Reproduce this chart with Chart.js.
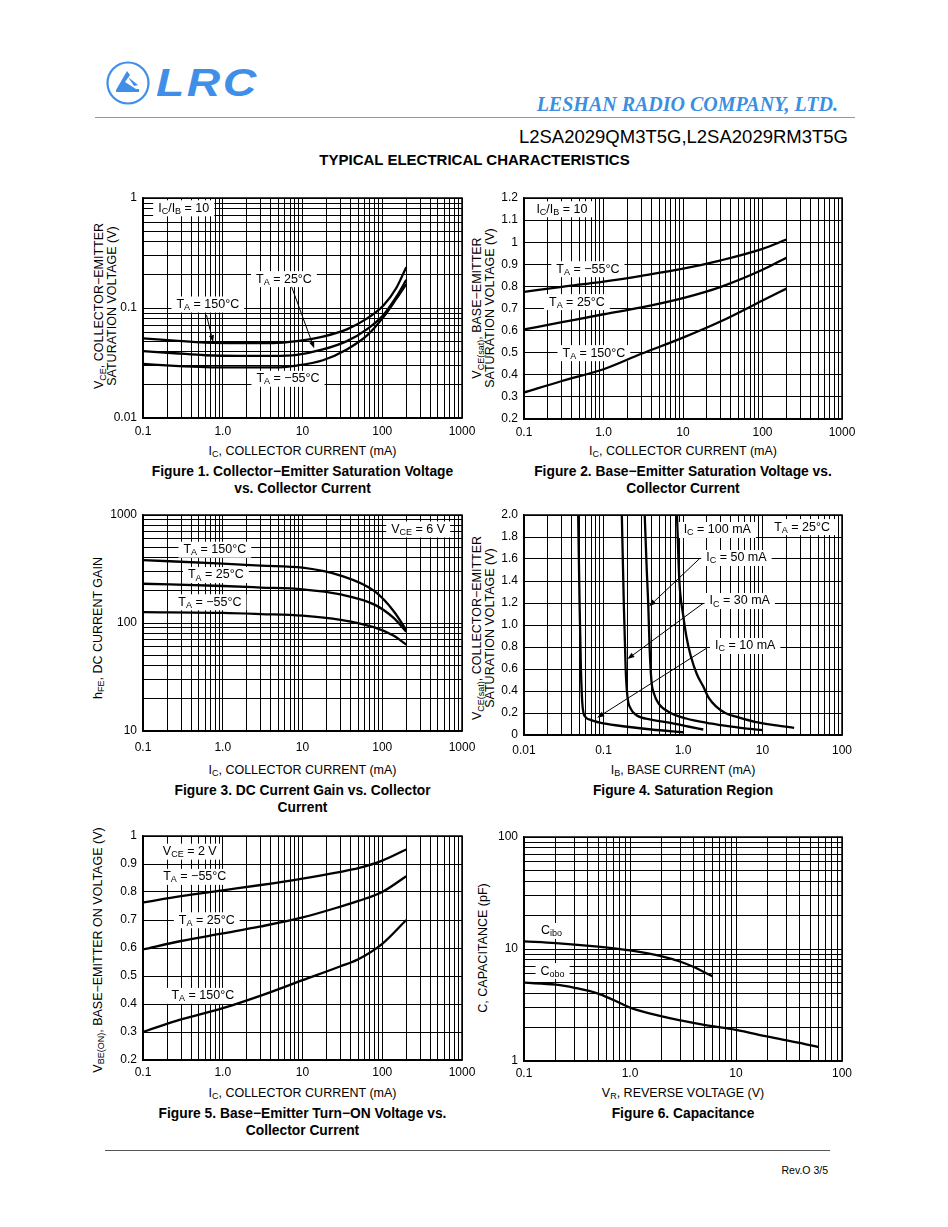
<!DOCTYPE html>
<html lang="en">
<head>
<meta charset="UTF-8">
<title>L2SA2029QM3T5G, L2SA2029RM3T5G - Typical Electrical Characteristics</title>
<script src="https://cdn.jsdelivr.net/npm/chart.js"></script>
<style>
  body { margin: 0; background: #fff; }
  .page { position: relative; width: 948px; height: 1227px; overflow: hidden; background: #fff;
          font-family: "Liberation Sans", Arial, Helvetica, sans-serif; color: #000; }
  .page canvas, .t, .r, .cap, .yax { position: absolute; white-space: nowrap; }
  .t { line-height: 1; transform: translate(-50%, -50%); }
  .r { line-height: 1; transform: translateY(-50%); }
  .ax { font-size: 12.5px; }
  .yax { font-size: 12.5px; line-height: 13px; text-align: center; transform: translate(-50%, -50%) rotate(-90deg); }
  .cap { font-size: 13.8px; font-weight: bold; line-height: 17px; text-align: center; transform: translateX(-50%); }
  sub { font-size: 72%; vertical-align: -0.3em; line-height: 0; }
</style>
</head>
<body>
<div class="page" id="page">
  <!-- header -->
  <svg style="position:absolute;left:105px;top:60px" width="46" height="46" viewBox="0 0 46 46">
    <circle cx="23" cy="23" r="20.5" fill="none" stroke="#3f8fe9" stroke-width="2.2"/>
    <path d="M11 30 L22 11 L25 15 L20 22 L31 29 L34 29 L34 32 L11 32 Z" fill="#3f8fe9"/>
    <path d="M23 17 L33 25 L29 26 Z" fill="#3f8fe9"/>
  </svg>
  <div class="r" style="left:156px;top:83px;font:italic bold 38px 'Liberation Sans',Arial,sans-serif;letter-spacing:2px;color:#3f8fe9;transform:translateY(-50%) scaleX(1.22);transform-origin:left center">LRC</div>
  <div class="r" style="right:110px;top:104px;font:italic bold 20px 'Liberation Serif','Times New Roman',serif;color:#3a8fdf">LESHAN RADIO COMPANY, LTD.</div>
  <div style="position:absolute;left:95px;top:117px;width:760px;height:1px;background:#5aa7e4"></div>
  <div class="r" style="right:100px;top:137px;font-size:18.5px">L2SA2029QM3T5G,L2SA2029RM3T5G</div>
  <div class="t" style="left:474.5px;top:159px;font-size:15px;font-weight:bold">TYPICAL ELECTRICAL CHARACTERISTICS</div>

  <!-- axis titles -->
  <div class="t ax" style="left:302.5px;top:451px">I<sub>C</sub>, COLLECTOR CURRENT (mA)</div>
  <div class="t ax" style="left:683px;top:451px">I<sub>C</sub>, COLLECTOR CURRENT (mA)</div>
  <div class="t ax" style="left:302.5px;top:770px">I<sub>C</sub>, COLLECTOR CURRENT (mA)</div>
  <div class="t ax" style="left:683px;top:770px">I<sub>B</sub>, BASE CURRENT (mA)</div>
  <div class="t ax" style="left:302.5px;top:1093px">I<sub>C</sub>, COLLECTOR CURRENT (mA)</div>
  <div class="t ax" style="left:683px;top:1093px">V<sub>R</sub>, REVERSE VOLTAGE (V)</div>

  <div class="yax" style="left:105.5px;top:306px">V<sub>CE</sub>, COLLECTOR−EMITTER<br>SATURATION VOLTAGE (V)</div>
  <div class="yax" style="left:484px;top:308px">V<sub>CE(sat)</sub>, BASE−EMITTER<br>SATURATION VOLTAGE (V)</div>
  <div class="yax" style="left:98px;top:628px">h<sub>FE</sub>, DC CURRENT GAIN</div>
  <div class="yax" style="left:484px;top:628px">V<sub>CE(sat)</sub>, COLLECTOR−EMITTER<br>SATURATION VOLTAGE (V)</div>
  <div class="yax" style="left:98px;top:950px">V<sub>BE(ON)</sub>, BASE−EMITTER ON VOLTAGE (V)</div>
  <div class="yax" style="left:483px;top:948px">C, CAPACITANCE (pF)</div>

  <!-- captions -->
  <div class="cap" style="left:302.5px;top:462.5px">Figure 1. Collector−Emitter Saturation Voltage<br>vs. Collector Current</div>
  <div class="cap" style="left:683px;top:462.5px">Figure 2. Base−Emitter Saturation Voltage vs.<br>Collector Current</div>
  <div class="cap" style="left:302.5px;top:781.5px">Figure 3. DC Current Gain vs. Collector<br>Current</div>
  <div class="cap" style="left:683px;top:781.5px">Figure 4. Saturation Region</div>
  <div class="cap" style="left:302.5px;top:1104.5px">Figure 5. Base−Emitter Turn−ON Voltage vs.<br>Collector Current</div>
  <div class="cap" style="left:683px;top:1104.5px">Figure 6. Capacitance</div>

  <!-- footer -->
  <div style="position:absolute;left:105px;top:1150px;width:725px;height:1px;background:#555"></div>
  <div class="r" style="right:120px;top:1170px;font-size:10.5px">Rev.O 3/5</div>
</div>

<script>
// ---- Figure 1: VCE(sat) vs IC (IC/IB = 10)
const f1Ic     = [0.1, 0.25, 0.6, 1.6, 4.3, 8.5, 18, 36, 64, 104, 150, 200];
const f1Vce150 = [0.053, 0.0505, 0.0485, 0.048, 0.048, 0.050, 0.055, 0.064, 0.080, 0.106, 0.152, 0.235];
const f1Vce25  = [0.0405, 0.0388, 0.0372, 0.0367, 0.0367, 0.0375, 0.042, 0.050, 0.064, 0.087, 0.126, 0.180];
const f1VceM55 = [0.031, 0.0298, 0.029, 0.0288, 0.0288, 0.030, 0.0335, 0.042, 0.056, 0.083, 0.121, 0.165];
const f1YTicks  = [0.01, 0.1, 1];
const f1YLabels = ['0.01', '0.1', '1'];

// ---- Figure 2: VBE(sat) vs IC
const f2Ic      = [0.1, 0.3, 1, 3, 10, 30, 100, 200];
const f2VbeM55  = [0.775, 0.798, 0.822, 0.848, 0.88, 0.918, 0.97, 1.012];
const f2Vbe25   = [0.605, 0.638, 0.674, 0.705, 0.747, 0.798, 0.875, 0.93];
const f2Vbe150  = [0.32, 0.372, 0.425, 0.495, 0.568, 0.642, 0.736, 0.79];
const f2YTicks  = [0.2, 0.3, 0.4, 0.5, 0.6, 0.7, 0.8, 0.9, 1.0, 1.1, 1.2];
const f2YLabels = ['0.2', '0.3', '0.4', '0.5', '0.6', '0.7', '0.8', '0.9', '1', '1.1', '1.2'];

// ---- Figure 3: hFE vs IC (VCE = 6 V)
const f3Ic      = [0.1, 1, 3, 10, 30, 80, 140, 200];
const f3Hfe150  = [382, 355, 340, 325, 275, 197, 128, 86];
const f3Hfe25   = [231, 220, 213, 205, 184, 148, 111, 83];
const f3HfeM55  = [126, 124, 121, 117, 107, 91, 76, 63];
const f3YTicks  = [10, 100, 1000];
const f3YLabels = ['10', '100', '1000'];

// ---- Figure 4: saturation region (TA = 25°C)
const f4Ib10   = [0.048, 0.050, 0.052, 0.054, 0.056, 0.06, 0.07, 0.1, 0.2, 0.4, 1.0];
const f4Vce10  = [2.0, 1.2, 0.6, 0.3, 0.2, 0.16, 0.135, 0.105, 0.075, 0.05, 0.025];
const f4Ib30   = [0.17, 0.18, 0.19, 0.2, 0.22, 0.26, 0.4, 0.7, 1.2, 1.8];
const f4Vce30  = [2.0, 1.2, 0.6, 0.35, 0.24, 0.18, 0.14, 0.11, 0.075, 0.05];
const f4Ib50   = [0.33, 0.35, 0.365, 0.38, 0.40, 0.43, 0.5, 0.7, 1.1, 2, 3, 6, 10];
const f4Vce50  = [2.0, 1.5, 1.2, 0.8, 0.5, 0.38, 0.28, 0.2, 0.15, 0.11, 0.09, 0.06, 0.045];
const f4Ib100  = [0.84, 0.9, 1.0, 1.1, 1.25, 1.5, 1.8, 2.1, 2.6, 3.4, 5, 8, 14, 25];
const f4Vce100 = [2.0, 1.4, 1.1, 0.9, 0.72, 0.55, 0.44, 0.34, 0.26, 0.2, 0.16, 0.12, 0.09, 0.065];
const f4XTicks  = [0.01, 0.1, 1, 10, 100];
const f4XLabels = ['0.01', '0.1', '1.0', '10', '100'];
const f4YTicks  = [0, 0.2, 0.4, 0.6, 0.8, 1.0, 1.2, 1.4, 1.6, 1.8, 2.0];
const f4YLabels = ['0', '0.2', '0.4', '0.6', '0.8', '1.0', '1.2', '1.4', '1.6', '1.8', '2.0'];

// ---- Figure 5: VBE(on) vs IC (VCE = 2 V)
const f5Ic      = [0.1, 0.3, 1, 3, 10, 30, 50, 100, 200];
const f5VbeM55  = [0.763, 0.785, 0.806, 0.825, 0.848, 0.872, 0.885, 0.912, 0.952];
const f5Vbe25   = [0.595, 0.625, 0.652, 0.677, 0.709, 0.748, 0.768, 0.80, 0.856];
const f5Vbe150  = [0.30, 0.345, 0.385, 0.43, 0.485, 0.535, 0.56, 0.615, 0.70];
const f5YTicks  = [0.2, 0.3, 0.4, 0.5, 0.6, 0.7, 0.8, 0.9, 1.0];
const f5YLabels = ['0.2', '0.3', '0.4', '0.5', '0.6', '0.7', '0.8', '0.9', '1'];

// ---- Figure 6: capacitance vs VR
const f6VrIbo = [0.1, 0.2, 0.5, 1, 2, 3, 4, 6];
const f6Cibo  = [11.7, 11.3, 10.5, 9.7, 8.6, 7.7, 6.9, 5.7];
const f6VrObo = [0.1, 0.2, 0.3, 0.5, 0.7, 1, 2, 3, 5, 10, 20, 40, 60];
const f6Cobo  = [5.0, 4.8, 4.5, 4.0, 3.5, 3.0, 2.5, 2.3, 2.1, 1.9, 1.65, 1.45, 1.33];
const f6XTicks  = [0.1, 1, 10, 100];
const f6XLabels = ['0.1', '1.0', '10', '100'];
const f6YTicks  = [1, 10, 100];
const f6YLabels = ['1', '10', '100'];

// collector current axis shared by figs 1,2,3,5
const icTicks  = [0.1, 1, 10, 100, 1000];
const icLabels = ['0.1', '1.0', '10', '100', '1000'];

// annotations: [text, x, y] in data units, _{..} = subscript
const f1Notes  = [['I_{C}/I_{B} = 10', 0.324, 0.806], ['T_{A} = 25°C', 5.86, 0.183], ['T_{A} = 150°C', 0.65, 0.1076], ['T_{A} = −55°C', 6.58, 0.0227]];
const f1Arrows = [[7.3, 0.156, 14, 0.043], [0.625, 0.0864, 0.757, 0.049]];
const f2Notes  = [['I_{C}/I_{B} = 10', 0.3, 1.149], ['T_{A} = −55°C', 0.637, 0.878], ['T_{A} = 25°C', 0.463, 0.729], ['T_{A} = 150°C', 0.757, 0.498]];
const f3Notes  = [['V_{CE} = 6 V', 282, 735], ['T_{A} = 150°C', 0.796, 477], ['T_{A} = 25°C', 0.82, 278], ['T_{A} = −55°C', 0.689, 155.6]];
const f4Notes  = [['I_{C} = 100 mA', 2.7, 1.864], ['T_{A} = 25°C', 31.5, 1.89], ['I_{C} = 50 mA', 4.7, 1.609], ['I_{C} = 30 mA', 5.17, 1.218], ['I_{C} = 10 mA', 6.06, 0.809]];
const f4Arrows = [[1.63, 1.606, 0.375, 1.17], [1.79, 1.197, 0.2, 0.69], [1.97, 0.788, 0.0834, 0.157]];
const f5Notes  = [['V_{CE} = 2 V', 0.386, 0.944], ['T_{A} = −55°C', 0.446, 0.854], ['T_{A} = 25°C', 0.63, 0.699], ['T_{A} = 150°C', 0.562, 0.429]];
const f6Notes  = [['C_{ibo}', 0.182, 14.5], ['C_{obo}', 0.186, 6.35]];

const FONT = '"Liberation Sans", Arial, Helvetica, sans-serif';
Chart.defaults.font.family = FONT;
Chart.defaults.color = '#000';
const page = document.getElementById('page');

// all decade + minor gridlines of a log axis
function logGrid(min, max) {
  const out = [];
  for (let e = Math.floor(Math.log10(min)); e <= Math.ceil(Math.log10(max)); e++) {
    for (let m = 1; m <= 9; m++) {
      const v = Number((m * Math.pow(10, e)).toPrecision(6));
      if (v >= min * 0.999 && v <= max * 1.001) out.push(v);
    }
  }
  return out;
}

function axis(cfg, side, size) {
  const isLog = cfg.type === 'logarithmic';
  const grid = isLog ? logGrid(cfg.min, cfg.max) : cfg.ticks;
  return {
    type: cfg.type, position: side, min: cfg.min, max: cfg.max,
    afterBuildTicks: s => { s.ticks = grid.map(v => ({ value: v })); },
    afterFit: s => {
      if (side === 'left') s.width = size; else s.height = size;
      s.paddingLeft = 0; s.paddingRight = 0; s.paddingTop = 0; s.paddingBottom = 0;
    },
    grid: { color: '#000', lineWidth: 1, drawTicks: false },
    border: { color: '#000', width: 1.5 },
    ticks: {
      autoSkip: false, maxRotation: 0, minRotation: 0, padding: cfg.pad, color: '#000',
      font: { family: FONT, size: 12 },
      callback: v => {
        const i = cfg.ticks.findIndex(t => isLog ? Math.abs(Math.log10(t / v)) < 1e-6 : Math.abs(t - v) < 1e-6);
        return i < 0 ? '' : cfg.labels[i];
      }
    }
  };
}

function line(xs, ys) {
  return {
    data: xs.map((x, i) => ({ x, y: ys[i] })),
    borderColor: '#000', borderWidth: 2.3, pointRadius: 0,
    cubicInterpolationMode: 'monotone', fill: false
  };
}

function drawRich(ctx, text, cx, cy) {
  const parts = text.split(/(_\{[^}]*\})/).filter(Boolean)
    .map(p => p.startsWith('_{') ? { t: p.slice(2, -1), sub: true } : { t: p, sub: false });
  const fMain = '12.5px ' + FONT, fSub = '9px ' + FONT;
  let w = 0;
  parts.forEach(p => { ctx.font = p.sub ? fSub : fMain; p.w = ctx.measureText(p.t).width; w += p.w; });
  ctx.fillStyle = '#fff';
  ctx.fillRect(cx - w / 2 - 5, cy - 8, w + 10, 16);
  ctx.fillStyle = '#000';
  ctx.textBaseline = 'middle';
  ctx.textAlign = 'left';
  let px = cx - w / 2;
  parts.forEach(p => { ctx.font = p.sub ? fSub : fMain; ctx.fillText(p.t, px, p.sub ? cy + 3 : cy); px += p.w; });
}

function drawArrow(ctx, x0, y0, x1, y1) {
  const a = Math.atan2(y1 - y0, x1 - x0), L = 7, W = 2.6;
  const bx = x1 - L * Math.cos(a), by = y1 - L * Math.sin(a);
  ctx.strokeStyle = '#000'; ctx.fillStyle = '#000'; ctx.lineWidth = 1;
  ctx.beginPath(); ctx.moveTo(x0, y0); ctx.lineTo(bx, by); ctx.stroke();
  ctx.beginPath(); ctx.moveTo(x1, y1);
  ctx.lineTo(bx + W * Math.sin(a), by - W * Math.cos(a));
  ctx.lineTo(bx - W * Math.sin(a), by + W * Math.cos(a));
  ctx.closePath(); ctx.fill();
}

function notes(labels, arrows) {
  return {
    id: 'notes',
    beforeDatasetsDraw(chart) {
      const { ctx, scales: { x, y } } = chart;
      ctx.save();
      labels.forEach(([t, vx, vy]) => drawRich(ctx, t, x.getPixelForValue(vx), y.getPixelForValue(vy)));
      ctx.restore();
    },
    afterDatasetsDraw(chart) {
      const { ctx, chartArea: a, scales: { x, y } } = chart;
      ctx.save();
      arrows.forEach(([x0, y0, x1, y1]) => drawArrow(ctx, x.getPixelForValue(x0), y.getPixelForValue(y0), x.getPixelForValue(x1), y.getPixelForValue(y1)));
      ctx.strokeStyle = '#000'; ctx.lineWidth = 1.5;
      ctx.strokeRect(a.left, a.top, a.right - a.left, a.bottom - a.top);
      ctx.restore();
    }
  };
}

function makeChart(rect, xCfg, yCfg, datasets, labels, arrows) {
  const YW = 60, PT = 12, PR = 26, XH = 36;
  const w = rect.r - rect.l + YW + PR, h = rect.b - rect.t + PT + XH;
  const cv = document.createElement('canvas');
  cv.width = w; cv.height = h;
  cv.style.left = (rect.l - YW) + 'px'; cv.style.top = (rect.t - PT) + 'px';
  cv.style.width = w + 'px'; cv.style.height = h + 'px';
  page.appendChild(cv);
  new Chart(cv, {
    type: 'line',
    data: { datasets },
    options: {
      responsive: false, animation: false, events: [],
      layout: { padding: { top: PT, right: PR, left: 0, bottom: 0 } },
      plugins: { legend: { display: false }, tooltip: { enabled: false } },
      scales: { x: axis(xCfg, 'bottom', XH), y: axis(yCfg, 'left', YW) }
    },
    plugins: [notes(labels, arrows || [])]
  });
}

const icAxis = pad => ({ type: 'logarithmic', min: 0.1, max: 1000, ticks: icTicks, labels: icLabels, pad });

makeChart({ l: 143, t: 198, r: 462, b: 418 }, icAxis(6),
  { type: 'logarithmic', min: 0.01, max: 1, ticks: f1YTicks, labels: f1YLabels, pad: 6 },
  [line(f1Ic, f1Vce150), line(f1Ic, f1Vce25), line(f1Ic, f1VceM55)], f1Notes, f1Arrows);

makeChart({ l: 524, t: 198, r: 842, b: 419 }, icAxis(6),
  { type: 'linear', min: 0.2, max: 1.2, ticks: f2YTicks, labels: f2YLabels, pad: 6 },
  [line(f2Ic, f2VbeM55), line(f2Ic, f2Vbe25), line(f2Ic, f2Vbe150)], f2Notes);

makeChart({ l: 143, t: 515, r: 462, b: 731 }, icAxis(9),
  { type: 'logarithmic', min: 10, max: 1000, ticks: f3YTicks, labels: f3YLabels, pad: 6 },
  [line(f3Ic, f3Hfe150), line(f3Ic, f3Hfe25), line(f3Ic, f3HfeM55)], f3Notes);

makeChart({ l: 524, t: 515, r: 842, b: 735 },
  { type: 'logarithmic', min: 0.01, max: 100, ticks: f4XTicks, labels: f4XLabels, pad: 8 },
  { type: 'linear', min: 0, max: 2.0, ticks: f4YTicks, labels: f4YLabels, pad: 6 },
  [line(f4Ib10, f4Vce10), line(f4Ib30, f4Vce30), line(f4Ib50, f4Vce50), line(f4Ib100, f4Vce100)], f4Notes, f4Arrows);

makeChart({ l: 143, t: 836, r: 462, b: 1060 }, icAxis(5),
  { type: 'linear', min: 0.2, max: 1.0, ticks: f5YTicks, labels: f5YLabels, pad: 6 },
  [line(f5Ic, f5VbeM55), line(f5Ic, f5Vbe25), line(f5Ic, f5Vbe150)], f5Notes);

makeChart({ l: 524, t: 837, r: 842, b: 1061 },
  { type: 'logarithmic', min: 0.1, max: 100, ticks: f6XTicks, labels: f6XLabels, pad: 5 },
  { type: 'logarithmic', min: 1, max: 100, ticks: f6YTicks, labels: f6YLabels, pad: 6 },
  [line(f6VrIbo, f6Cibo), line(f6VrObo, f6Cobo)], f6Notes);
</script>
</body>
</html>
